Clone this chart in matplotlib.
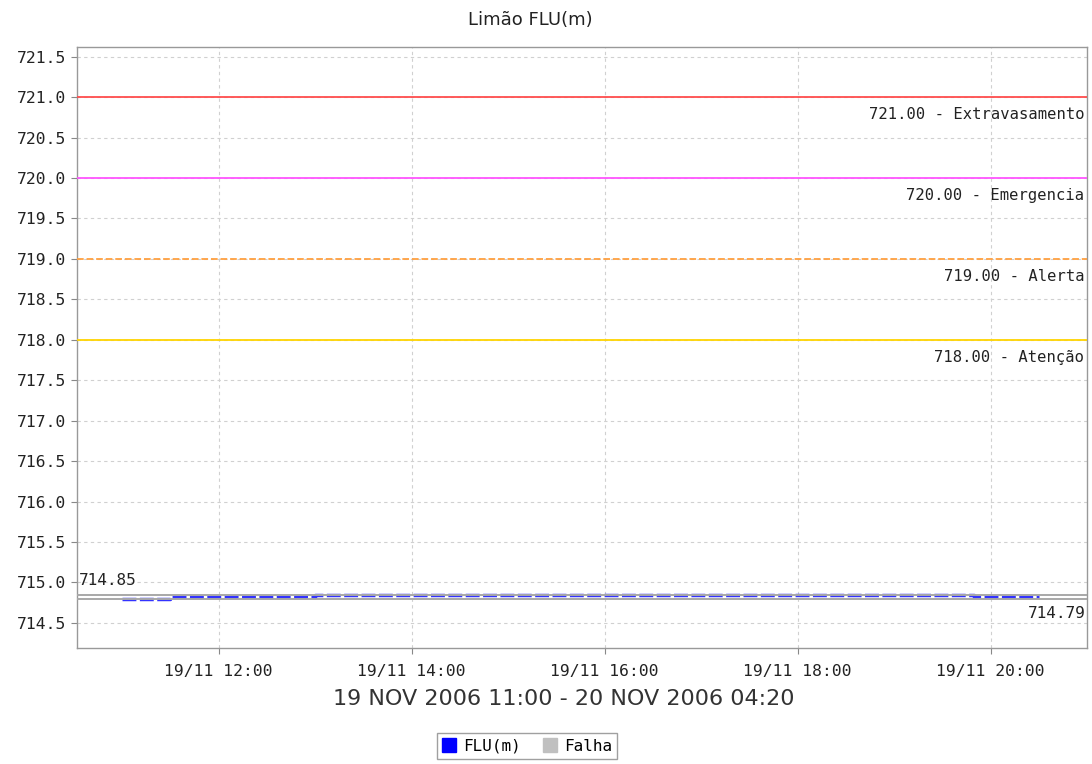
from datetime import datetime
import matplotlib
matplotlib.use("Agg")
import matplotlib.pyplot as plt
import matplotlib.dates as mdates
from matplotlib.patches import Patch


# Series data (step changes of the water level)
times = ["2006-11-19 11:00", "2006-11-19 11:30", "2006-11-19 13:00",
         "2006-11-19 19:50", "2006-11-19 20:30"]
levels = [714.79, 714.82, 714.85, 714.82, 714.82]

# Threshold markers
limit_values = [721.0, 720.0, 719.0, 718.0]
limit_names = ["Extravasamento", "Emergencia", "Alerta", "Atenção"]
limit_colors = ["#ff4d4d", "#ff55ff", "#ffa040", "#ffd400"]
limit_styles = ["-", "-", "--", "-"]

# Range band (min/max)
band_min = 714.79
band_max = 714.85

x = [datetime.strptime(t, "%Y-%m-%d %H:%M") for t in times]

fig = plt.figure(figsize=(10.92, 7.64), dpi=100)
ax = fig.add_axes([77 / 1092, 1 - 648 / 764, 1010 / 1092, 601 / 764])

mono = "DejaVu Sans Mono"

# grid
ax.grid(True, color="#d0d0d0", linestyle=(0, (3, 3)), linewidth=0.8)
ax.set_axisbelow(True)

# threshold lines + labels
for val, name, col, ls in zip(limit_values, limit_names, limit_colors, limit_styles):
    ax.axhline(val, color=col, linestyle=ls, linewidth=1.3, zorder=3)
    ax.annotate(f"{val:.2f} - {name}", xy=(1, val), xycoords=("axes fraction", "data"),
                xytext=(-2, -7), textcoords="offset points", ha="right", va="top",
                fontsize=11.2, family=mono, color="#222222")

# data line
ax.plot(x, levels, drawstyle="steps-post", color="#0000ff", linewidth=2.5,
        linestyle=(0, (4, 1)), alpha=0.8, zorder=4)

# min/max band
for v in (band_min, band_max):
    ax.axhline(v, color="#a8a8a8", linewidth=1.4, zorder=5)
ax.annotate(f"{band_max:.2f}", xy=(0, band_max), xycoords=("axes fraction", "data"),
            xytext=(1, 5), textcoords="offset points", ha="left", va="bottom",
            fontsize=11.5, family=mono, color="#222222")
ax.annotate(f"{band_min:.2f}", xy=(1, band_min), xycoords=("axes fraction", "data"),
            xytext=(-1, -5), textcoords="offset points", ha="right", va="top",
            fontsize=11.5, family=mono, color="#222222")

# axes limits / ticks
ax.set_ylim(714.19, 721.62)
ax.set_yticks([714.5 + 0.5 * i for i in range(15)])
ax.yaxis.set_major_formatter(plt.FormatStrFormatter("%.1f"))
ax.set_xlim(datetime(2006, 11, 19, 10, 32), datetime(2006, 11, 19, 21, 0))
ax.xaxis.set_major_locator(mdates.HourLocator(byhour=[12, 14, 16, 18, 20]))
ax.xaxis.set_major_formatter(mdates.DateFormatter("%d/%m %H:%M"))
ax.tick_params(axis="both", colors="#888888", labelcolor="#222222", length=4,
               labelsize=11.8)
ax.tick_params(axis="x", pad=7.5)
for lab in ax.get_xticklabels() + ax.get_yticklabels():
    lab.set_family(mono)

for s in ax.spines.values():
    s.set_color("#999999")
    s.set_linewidth(1)

ax.set_xlabel("19 NOV 2006 11:00 - 20 NOV 2006 04:20", fontsize=16, color="#333333",
              labelpad=7)
ax.xaxis.label.set_x((564 - 77) / 1010)
fig.text(530 / 1092, 1 - 20 / 764, "Limão FLU(m)", ha="center", va="center",
         fontsize=13, color="#222222")

handles = [Patch(facecolor="#0000ff", edgecolor="#0000ff", label="FLU(m)"),
           Patch(facecolor="#c0c0c0", edgecolor="#c0c0c0", label="Falha")]
leg = fig.legend(handles=handles, loc="center", bbox_to_anchor=(527 / 1092, 1 - 746 / 764),
                 ncol=2, frameon=True, fancybox=False, handlelength=0.9,
                 handleheight=0.9, handletextpad=0.4, columnspacing=1.4,
                 borderpad=0.35, prop={"family": mono, "size": 11.5})
leg.get_frame().set_edgecolor("#888888")
leg.get_frame().set_linewidth(1)

fig.savefig("out.png", dpi=100)
